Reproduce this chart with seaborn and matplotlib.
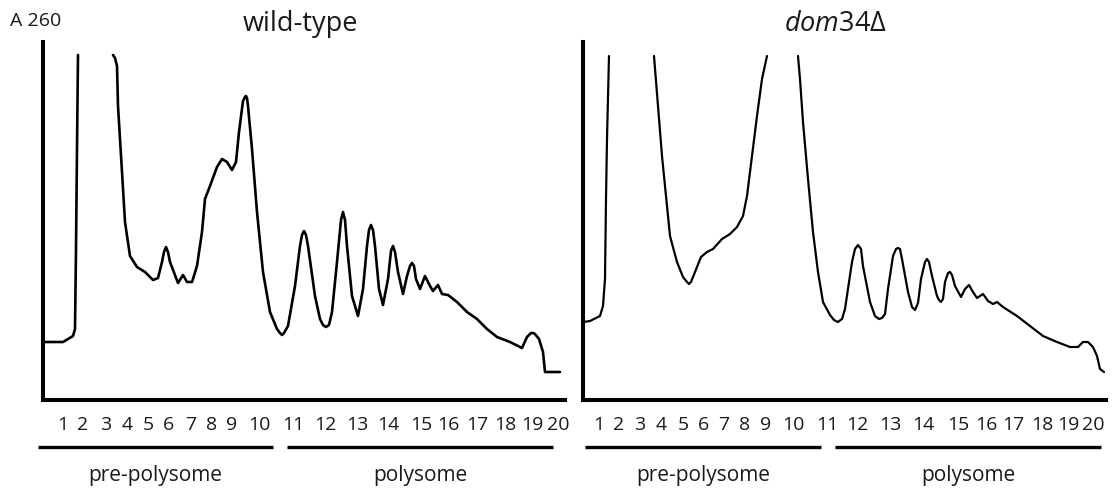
import numpy as np
import pandas as pd
import matplotlib
matplotlib.use("Agg")
import matplotlib.pyplot as plt
import seaborn as sns

# ---------------- data (gradient position a.u., A260 a.u.) ----------------
# wild-type trace; None marks off-scale gaps
wt_x = [0, 20, 30, 32, 33, 34, 35, None,
        70, 72, 74, 75, 79, 82, 87, 94, 102, 110, 115, 119, 121, 123, 125, 127, 135, 140, 144, 149,
        154, 159, 162, 167, 174, 179, 184, 189, 193, 196, 200, 202, 203, 204, 205, 209, 214, 220,
        227, 234, 237, 239, 241, 245, 252, 257, 259, 261, 263, 265, 272, 277, 280, 283, 286, 289,
        294, 298, 300, 302, 304, 309,
        315, 320, 324, 326, 328, 330, 332, 336, 340, 345, 348, 350, 352, 355, 360, 364, 367, 369,
        371, 373, 377, 382, 387, 390, 395, 399, 405, 414, 424, 434, 444, 454, 467, 479, 484,
        488, 490, 492, 496, 500, 502, 517]
wt_y = [58, 58, 64, 71, 151, 251, 345, None,
        345, 342, 334, 294, 228, 178, 144, 133, 128, 120, 122, 138, 148, 153, 148, 138, 117, 125, 118, 118,
        134, 168, 201, 214, 233, 241, 238, 230, 238, 268, 299, 303, 304, 302, 294, 251, 188, 128,
        88, 71, 67, 65, 67, 74, 114, 154, 165, 169, 165, 154, 104, 81, 75, 73, 75, 88,
        138, 180, 188, 180, 154, 104,
        84, 111, 154, 170, 175, 170, 154, 111, 95, 121, 149, 154, 148, 128, 106, 124, 134, 137,
        134, 121, 111, 124, 114, 109, 115, 106, 105, 98, 88, 81, 71, 63, 58, 52, 63,
        67, 67, 66, 61, 48, 28, 28]

# dom34-delta trace
dom_x = [0, 7, 17, 20, 22, 23, 24, 26, None,
         71, 75, 79, 84, 87, 94, 100, 104, 106, 108, 112, 118, 124, 130, 139, 147, 154, 160, 164,
         169, 174, 179, 184, None,
         215, 217, 220, 225, 230, 235, 240, 247, 251, 255, 259, 262, 269, 272, 275, 278, 280, 287,
         292, 296, 299, 302,
         305, 310, 313, 315, 317, 319, 325, 329, 332, 335, 338, 342, 344, 346, 349, 354, 356, 358,
         360, 362, 365, 367, 369, 372, 378, 382,
         386, 390, 394, 400, 405, 410, 414, 420, 434, 447, 460, 474, 487, 495, 500, 505,
         510, 514, 517, 521]
dom_y = [78, 79, 84, 94, 121, 201, 261, 344, None,
         344, 294, 244, 194, 164, 138, 123, 118, 116, 118, 128, 143, 148, 151, 161, 166, 173, 184, 204,
         244, 284, 321, 344, None,
         344, 321, 278, 221, 168, 128, 98, 85, 80, 78, 81, 91, 138, 151, 155, 151, 134, 98,
         84, 81, 82, 86,
         111, 144, 151, 152, 151, 141, 108, 93, 90, 97, 121, 138, 141, 138, 124, 104, 100, 98,
         101, 118, 127, 128, 125, 114, 103, 111,
         115, 108, 102, 106, 99, 96, 98, 93, 84, 74, 64, 58, 53, 53, 58, 58,
         53, 44, 31, 28]

fractions = [str(i) for i in range(1, 21)]
wt_fraction_pos = [20, 40, 63, 84, 105, 126, 148, 169, 189, 216,
                   250, 282, 314, 345, 378, 405, 434, 462, 489, 515]
dom_fraction_pos = [16, 36, 57, 78, 100, 120, 141, 162, 183, 210,
                    244, 274, 307, 340, 375, 403, 430, 459, 485, 510]

groups = ["pre-polysome", "polysome"]
wt_group_spans = [(-5, 230), (244, 510)]
dom_group_spans = [(2, 238), (252, 518)]

titles = ["wild-type", r"$\it{dom34}$Δ"]


def to_frame(xs, ys):
    seg, rows = 0, []
    for x, y in zip(xs, ys):
        if x is None:
            seg += 1
            continue
        rows.append((x, y, seg))
    return pd.DataFrame(rows, columns=["pos", "a260", "seg"])


sns.set_style("white")
plt.rcParams["font.family"] = ["Open Sans", "DejaVu Sans"]
plt.rcParams["mathtext.fontset"] = "custom"
plt.rcParams["mathtext.it"] = "Open Sans:italic"
plt.rcParams["mathtext.rm"] = "Open Sans"

W, H = 1119, 489
fig = plt.figure(figsize=(W / 100, H / 100), dpi=100)
fig.patch.set_facecolor("white")

panels = [
    dict(left=43, width=522, xs=wt_x, ys=wt_y, ticks=wt_fraction_pos,
         spans=wt_group_spans, lw=1.9, title=titles[0], tcx=300),
    dict(left=583, width=523, xs=dom_x, ys=dom_y, ticks=dom_fraction_pos,
         spans=dom_group_spans, lw=1.6, title=titles[1], tcx=835),
]

bottom_px, top_px = 401, 43
for p in panels:
    ax = fig.add_axes([p["left"] / W, (H - bottom_px) / H,
                       p["width"] / W, (bottom_px - top_px) / H])
    df = to_frame(p["xs"], p["ys"])
    sns.lineplot(data=df, x="pos", y="a260", units="seg", estimator=None,
                 sort=False, color="black", lw=p["lw"], ax=ax, legend=False)
    ax.set_xlim(0, p["width"])
    ax.set_ylim(0, bottom_px - top_px)
    for s in ["top", "right"]:
        ax.spines[s].set_visible(False)
    for s in ["left", "bottom"]:
        ax.spines[s].set_linewidth(2.9)
        ax.spines[s].set_color("black")
    ax.set_yticks([])
    ax.set_xticks(p["ticks"])
    ax.set_xticklabels(fractions, fontsize=14, color="#1a1a1a")
    ax.tick_params(axis="x", length=0, pad=11)
    ax.set_xlabel("")
    ax.set_ylabel("")
    trans = ax.get_xaxis_transform()
    for g, (x0, x1) in zip(groups, p["spans"]):
        ax.plot([x0, x1], [-0.131, -0.131], transform=trans, clip_on=False,
                color="black", lw=2.4, solid_capstyle="butt")
        ax.text((x0 + x1) / 2, -0.207, g, transform=trans, ha="center",
                va="center", fontsize=15, color="#1a1a1a")
    fig.text(p["tcx"] / W, 1 - 24 / H, p["title"], ha="center", va="center",
             fontsize=19.5, color="#1a1a1a")

fig.text(10 / W, 1 - 21 / H, "A 260", ha="left", va="center", fontsize=14,
         color="#1a1a1a")

fig.savefig("out.png", dpi=100, facecolor="white")
